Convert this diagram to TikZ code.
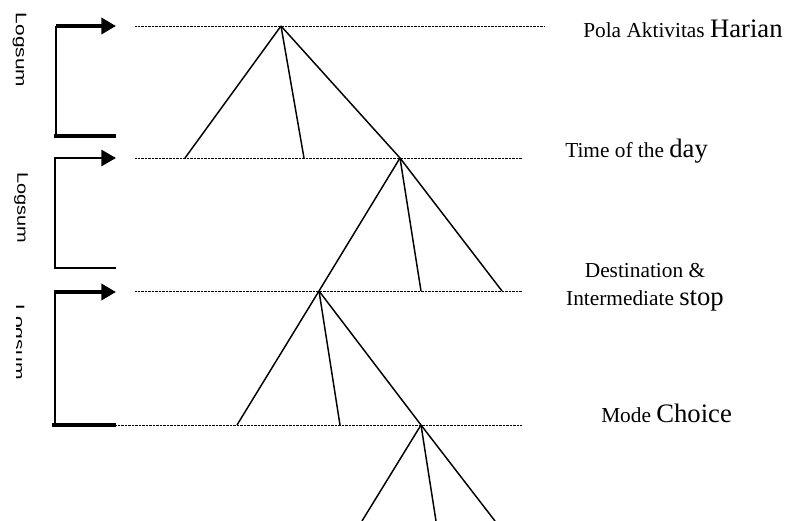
\documentclass[tikz,border=0pt]{standalone}
\usepackage{fontspec}
\setmainfont{Liberation Serif}
\newfontfamily\logsumfont{Liberation Sans}
\usetikzlibrary{arrows.meta}
\newcommand{\smalltxt}{\fontsize{16pt}{19pt}\selectfont}
\newcommand{\bigtxt}{\fontsize{20pt}{23pt}\selectfont}
\tikzset{
  level/.style={line width=0.7pt, dash pattern=on 0.6pt off 0.45pt},
  branch/.style={line width=1.1pt},
  lvl label/.style={inner sep=0pt},
  logsum/.style={rotate=-90, inner sep=0pt, font=\logsumfont\fontsize{11.5pt}{13pt}\selectfont},
  heavy/.style={line width=3.6pt},
  tip/.style={-{Triangle[length=11pt,width=12pt]}}
}
\begin{document}
\begin{tikzpicture}[x=0.75pt,y=-0.75pt]
      \useasboundingbox (0,0) rectangle (786,521);
      % levels
      \draw
        (135,26) coordinate (l0w) (545,26) coordinate (l0e)
        (135,158) coordinate (l1w) (522,158) coordinate (l1e)
        (135,291) coordinate (l2w) (522,291) coordinate (l2e)
        (115,425) coordinate (l3w) (522,425) coordinate (l3e);
      \begin{scope}[level]
        \draw (l0w) -- (l0e);
        \draw (l1w) -- (l1e);
        \draw (l2w) -- (l2e);
        \draw (l3w) -- (l3e);
      \end{scope}
      % trees
      \draw
        (281,26) coordinate (a)
        (185,158) coordinate (a1)
        (304,158) coordinate (a2)
        (400,158) coordinate (b)
        (421,291) coordinate (b2)
        (502,291) coordinate (b3)
        (319,291) coordinate (c)
        (237,425) coordinate (c1)
        (340,425) coordinate (c2)
        (421,425) coordinate (d)
        (362,521) coordinate (d1)
        (436,521) coordinate (d2)
        (495,521) coordinate (d3);
      \begin{scope}[branch]
        \draw (a) to (a1);
        \draw (a) to (a2);
        \draw (a) to (b);
        \draw (b) to (c);
        \draw (b) to (b2);
        \draw (b) to (b3);
        \draw (c) to (c1);
        \draw (c) to (c2);
        \draw (c) to (d);
        \draw (d) to (d1);
        \draw (d) to (d2);
        \draw (d) to (d3);
      \end{scope}
      % labels
      \node[lvl label, anchor=base west] (pola) at (583,37)
        {\smalltxt Pola Aktivitas \bigtxt Harian};
      \node[lvl label, anchor=base west] (time) at (565,157)
        {\smalltxt Time of the \bigtxt day};
      \node[lvl label, anchor=base, align=center, font=\smalltxt] (dest) at (645,305)
        {Destination \&\\[2pt] Intermediate \bigtxt stop};
      \node[lvl label, anchor=base west] (mode) at (601,422)
        {\smalltxt Mode \bigtxt Choice};
      % logsum brackets
      \draw
        (56,26) coordinate (g1t) (116,26) coordinate (g1a)
        (56,136) coordinate (g1b) (116,136) coordinate (g1e)
        (55,158) coordinate (g2t) (116,158) coordinate (g2a)
        (55,268) coordinate (g2b) (116,268) coordinate (g2e)
        (55,292) coordinate (g3t) (116,292) coordinate (g3a)
        (55,425) coordinate (g3b) (116,425) coordinate (g3e);
      \draw[line width=1.8pt] (g1t) -- (g1b);
      \draw[heavy, tip] (g1t) -- (g1a);
      \draw[heavy] ([xshift=-1.5pt]g1b) -- (g1e);
      \draw[line width=1.1pt] (g2t) -- (g2b);
      \draw[line width=2.2pt, tip] ([xshift=-0.5pt]g2t) -- (g2a);
      \draw[line width=1.6pt] ([xshift=-0.5pt]g2b) -- (g2e);
      \draw[line width=1.8pt] (g3t) -- (g3b);
      \draw[heavy, tip] ([xshift=-0.6pt]g3t) -- (g3a);
      \draw[heavy] ([xshift=-2pt]g3b) -- (g3e);
      \node[logsum] (ls1) at (19.5,50) {\scalebox{1.36}[1]{Logsum}};
      \node[logsum] (ls2) at (21,207.5) {\scalebox{1.3}[1]{Logsum}};
      \begin{scope}
        \clip (16.5,290) rectangle (40,390);
        \node[logsum] (ls3) at (17.5,342) {\scalebox{1.38}[1]{Logsum}};
      \end{scope}
\end{tikzpicture}
\end{document}
